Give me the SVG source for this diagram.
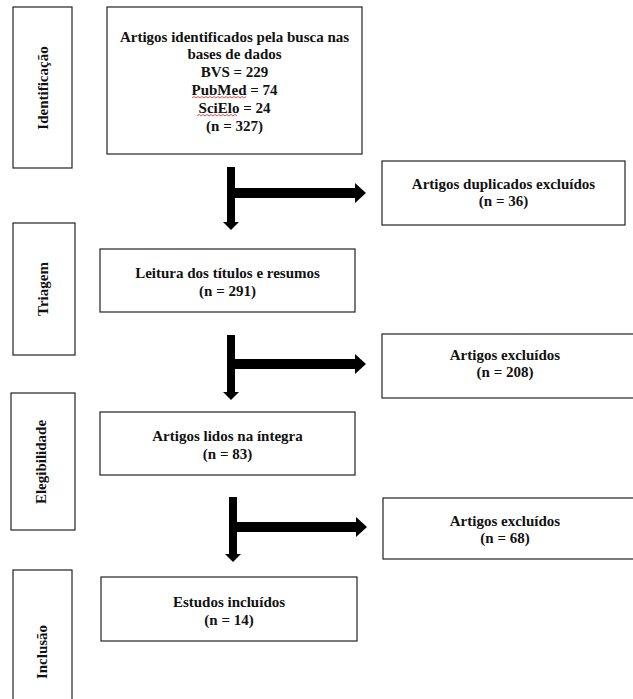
<svg xmlns="http://www.w3.org/2000/svg" width="633" height="699" viewBox="0 0 633 699">
<style>
.box{fill:#fff;stroke:#222;stroke-width:1.2}
.t{font-family:"Liberation Serif","Times New Roman",serif;font-weight:bold;font-size:15px;fill:#111;text-anchor:middle}
.arr{fill:#000}
.sq{fill:none;stroke:#d22;stroke-width:0.8}
</style>
<rect width="633" height="699" fill="#fff"/>
<g id="stage-identificacao"><rect class="box" x="13" y="7" width="59" height="161"/><text class="t" transform="translate(48,88) rotate(-90)">Identificação</text></g>
<g id="stage-triagem"><rect class="box" x="13" y="223" width="62" height="132"/><text class="t" transform="translate(48,289) rotate(-90)">Triagem</text></g>
<g id="stage-elegibilidade"><rect class="box" x="11" y="393" width="64" height="137"/><text class="t" transform="translate(46,462) rotate(-90)">Elegibilidade</text></g>
<g id="stage-inclusao"><rect class="box" x="13" y="570" width="59" height="140"/><text class="t" transform="translate(47,652) rotate(-90)">Inclusão</text></g>
<g id="n-identificados"><rect class="box" x="107" y="7" width="255" height="147"/>
<text class="t" x="234.5" y="42">Artigos identificados pela busca nas</text>
<text class="t" x="234.5" y="59">bases de dados</text>
<text class="t" x="234.5" y="77">BVS = 229</text>
<text class="t" x="234.5" y="95">PubMed = 74</text>
<text class="t" x="234.5" y="113">SciElo = 24</text>
<text class="t" x="234.5" y="131">(n = 327)</text>
<path class="sq" d="M192 98 l2 -1.5 l2 1.5 l2 -1.5 l2 1.5 l2 -1.5 l2 1.5 l2 -1.5 l2 1.5 l2 -1.5 l2 1.5 l2 -1.5 l2 1.5 l2 -1.5 l2 1.5 l2 -1.5 l2 1.5 l2 -1.5 l2 1.5 l2 -1.5 l2 1.5 l2 -1.5 l2 1.5 l2 -1.5 l2 1.5 l2 -1.5 l2 1.5 l2 -1.5"/>
<path class="sq" d="M197 116 l2 -1.5 l2 1.5 l2 -1.5 l2 1.5 l2 -1.5 l2 1.5 l2 -1.5 l2 1.5 l2 -1.5 l2 1.5 l2 -1.5 l2 1.5 l2 -1.5 l2 1.5 l2 -1.5 l2 1.5 l2 -1.5 l2 1.5 l2 -1.5 l2 1.5"/>
</g>
<g id="n-duplicados"><rect class="box" x="382" y="161" width="243" height="64"/>
<text class="t" x="503.5" y="189">Artigos duplicados excluídos</text>
<text class="t" x="503.5" y="206">(n = 36)</text></g>
<g id="n-leitura"><rect class="box" x="100" y="249" width="255" height="63"/>
<text class="t" x="227.5" y="278">Leitura dos títulos e resumos</text>
<text class="t" x="227.5" y="296">(n = 291)</text></g>
<g id="n-excluidos1"><rect class="box" x="382" y="334" width="260" height="64"/>
<text class="t" x="505" y="360">Artigos excluídos</text>
<text class="t" x="505" y="377">(n = 208)</text></g>
<g id="n-lidos"><rect class="box" x="100" y="412" width="255" height="63"/>
<text class="t" x="227.5" y="441">Artigos lidos na íntegra</text>
<text class="t" x="227.5" y="459">(n = 83)</text></g>
<g id="n-excluidos2"><rect class="box" x="383" y="498" width="260" height="61"/>
<text class="t" x="505" y="526">Artigos excluídos</text>
<text class="t" x="505" y="543">(n = 68)</text></g>
<g id="n-incluidos"><rect class="box" x="101" y="577" width="256" height="64"/>
<text class="t" x="229" y="607">Estudos incluídos</text>
<text class="t" x="229" y="625">(n = 14)</text></g>
<g id="connectors">
<path class="arr" d="M227 167 H235 V188 H355 V183 L366 193 L355 203 V198 H235 V222 H239 L231 230 L223 222 H227 Z"/>
<path class="arr" d="M227 335 H235 V359 H355 V354 L366 364 L355 374 V369 H235 V392 H239 L231 400 L223 392 H227 Z"/>
<path class="arr" d="M229 497 H237 V522 H356 V517 L367 527 L356 537 V532 H237 V554 H241 L233 562 L225 554 H229 Z"/>
</g>
</svg>
